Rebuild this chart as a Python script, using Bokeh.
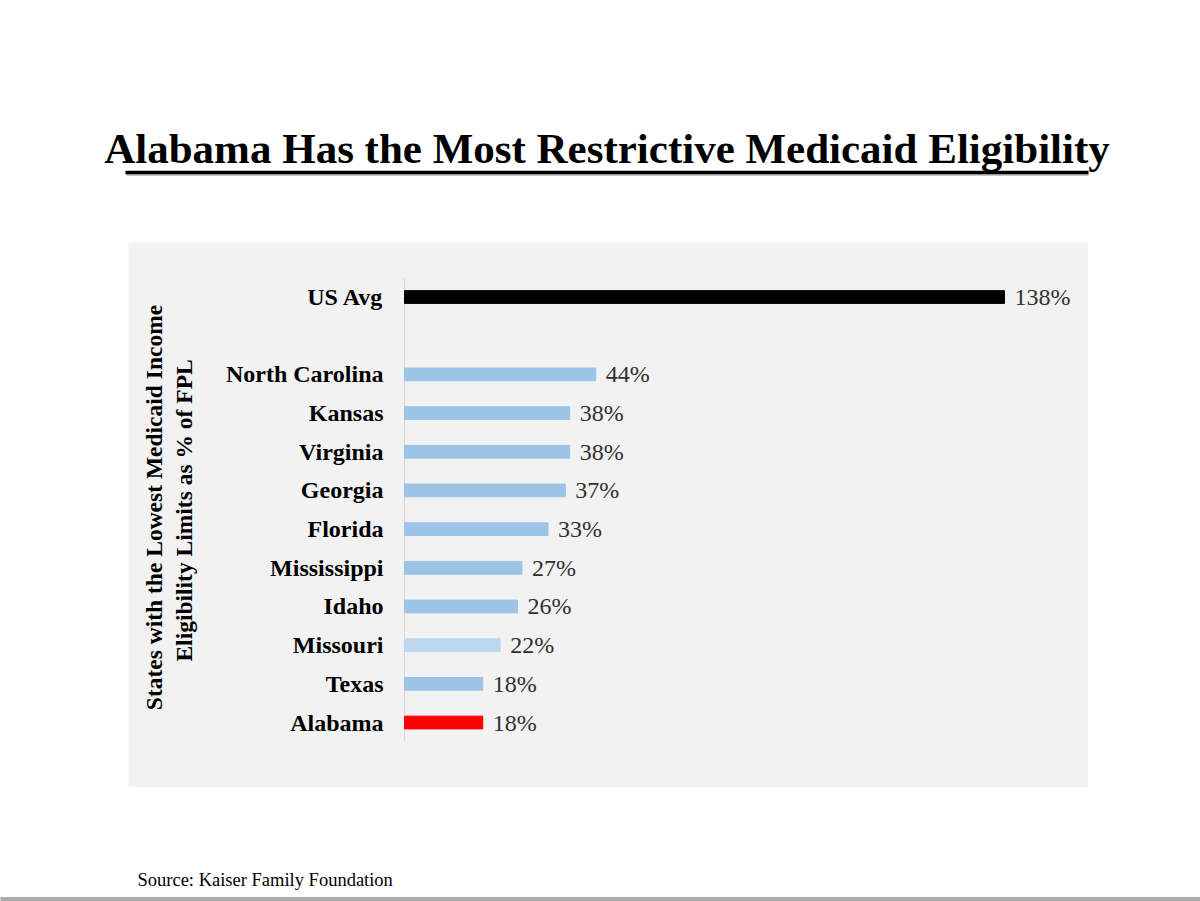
from bokeh.plotting import figure
from bokeh.layouts import column, row
from bokeh.models import Range1d, Label, Spacer, ColumnDataSource
from bokeh.core.properties import value
from bokeh.embed import file_html
from bokeh.resources import INLINE
import math

# ---- data ----
categories = ["US Avg", "North Carolina", "Kansas", "Virginia", "Georgia", "Florida",
              "Mississippi", "Idaho", "Missouri", "Texas", "Alabama"]
values = [138, 44, 38, 38, 37, 33, 27, 26, 22, 18, 18]
bar_colors = ["#000000", "#9DC3E6", "#9DC3E6", "#9DC3E6", "#9DC3E6", "#9DC3E6",
              "#9DC3E6", "#9DC3E6", "#BDD7EE", "#9DC3E6", "#FF0000"]
value_labels = [f"{v}%" for v in values]

title_text = "Alabama Has the Most Restrictive Medicaid Eligibility"
axis_title_1 = "States with the Lowest Medicaid Income"
axis_title_2 = "Eligibility  Limits as % of FPL"
source_text = "Source: Kaiser Family Foundation"

SERIF = "Liberation Serif"
W = 1200

# y positions: states stacked from bottom, one empty slot before "US Avg"
n_states = len(categories) - 1
ypos = [n_states + 1] + [n_states - 1 - i for i in range(n_states)]

src = ColumnDataSource(dict(cat=categories, val=values, color=bar_colors,
                            lab=value_labels, y=ypos))

# ---- title figure ----
TH = 242
pt = figure(width=W, height=TH, x_range=Range1d(0, W), y_range=Range1d(0, TH),
            min_border=0, toolbar_location=None, output_backend="svg",
            x_axis_location=None, y_axis_location=None, outline_line_color=None)
pt.grid.visible = False
pt.text(x=[606.5], y=[TH - 148], text=[title_text], text_font=value(SERIF),
        text_font_style="bold", text_font_size="43px", text_align="center",
        text_baseline="middle", text_color="#000000")
pt.segment(x0=[126], y0=[TH - 174.5], x1=[1088], y1=[TH - 174.5], line_color="#C8C8C8", line_width=2)
pt.segment(x0=[125], y0=[TH - 172], x1=[1088], y1=[TH - 172], line_color="#000000", line_width=3.5)

# ---- chart figure (frame = grey panel) ----
p = figure(width=960, height=545, x_range=Range1d(-63.48, 157.32),
           y_range=Range1d(-1.68, 12.41), min_border=0, toolbar_location=None,
           output_backend="svg", x_axis_location=None, y_axis_location=None,
           outline_line_color=None, background_fill_color="#F2F2F2",
           border_fill_color="#F2F2F2")
p.grid.visible = False

p.segment(x0=[0], y0=[-0.48], x1=[0], y1=[11.5], line_color="#D9D9D9", line_width=1.2)
p.hbar(y="y", right="val", left=0, height=0.33, color="color", source=src)
p.text(x="val", y="y", text="lab", x_offset=10, text_font=value(SERIF),
       text_font_size="24px", text_baseline="middle", text_align="left",
       text_color="#303030", source=src)
p.text(x=0, y="y", text="cat", x_offset=-21, text_font=value(SERIF),
       text_font_style="bold", text_font_size="24px", text_baseline="middle",
       text_align="right", text_color="#000000", source=src)

p.add_layout(Label(x=25, y=280, x_units="screen", y_units="screen", text=axis_title_1,
                   angle=math.pi / 2, text_align="center", text_baseline="middle",
                   text_font=SERIF, text_font_style="bold", text_font_size="23.5px",
                   text_color="#000000"))
p.add_layout(Label(x=55, y=280, x_units="screen", y_units="screen", text=axis_title_2,
                   angle=math.pi / 2, text_align="center", text_baseline="middle",
                   text_font=SERIF, text_font_style="bold", text_font_size="23.5px",
                   text_color="#000000"))

# ---- source figure ----
SH = 901 - TH - 545
ps = figure(width=W, height=SH, x_range=Range1d(0, W), y_range=Range1d(0, SH),
            min_border=0, toolbar_location=None, output_backend="svg",
            x_axis_location=None, y_axis_location=None, outline_line_color=None)
ps.grid.visible = False
ps.text(x=[137], y=[SH - 92], text=[source_text], text_font=value(SERIF),
        text_font_size="18.5px", text_align="left", text_baseline="middle",
        text_color="#000000")
ps.quad(left=[0], right=[W], bottom=[0], top=[4], color="#ABABAB")

layout = column(pt, row(Spacer(width=128, height=545), p), ps, spacing=0)

open("out.html", "w").write(file_html(layout, INLINE))
